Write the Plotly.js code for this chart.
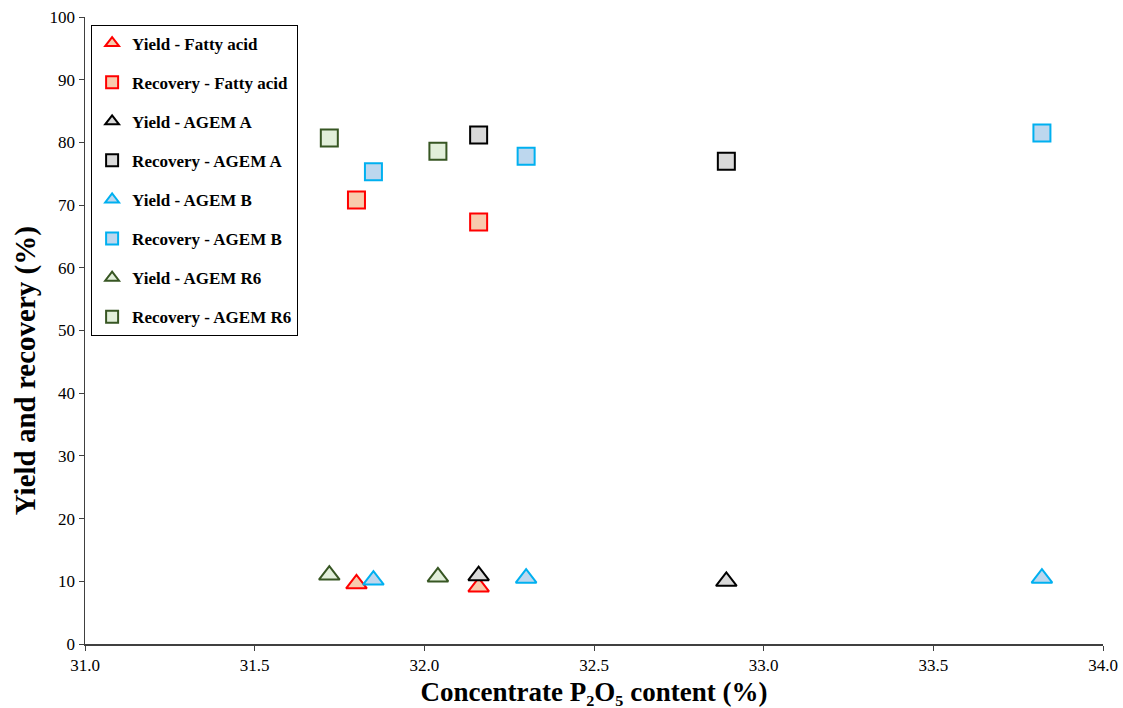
<!DOCTYPE html>
<html><head><meta charset="utf-8">
<script src="https://cdn.plot.ly/plotly-3.0.1.min.js"></script>
<style>body{margin:0;background:#fff}#chart{width:1123px;height:708px}</style>
</head><body><div id="chart"></div>
<script>
const faX = [31.80, 32.16];
const faYield = [9.6, 9.1];
const faRecovery = [70.8, 67.3];
const aX = [32.16, 32.89];
const aYield = [10.9, 10.0];
const aRecovery = [81.2, 77.0];
const bX = [31.85, 32.30, 33.82];
const bYield = [10.2, 10.5, 10.5];
const bRecovery = [75.3, 77.8, 81.5];
const r6X = [31.72, 32.04];
const r6Yield = [11.0, 10.7];
const r6Recovery = [80.7, 78.6];
const xTicks = [31.0, 31.5, 32.0, 32.5, 33.0, 33.5, 34.0];
const yTicks = [0, 10, 20, 30, 40, 50, 60, 70, 80, 90, 100];

const series = [
  {name: 'Yield - Fatty acid', x: faX, y: faYield, sym: 'triangle-up', line: '#FF0000', fill: '#F8CBAD'},
  {name: 'Recovery - Fatty acid', x: faX, y: faRecovery, sym: 'square', line: '#FF0000', fill: '#F8CBAD'},
  {name: 'Yield - AGEM A', x: aX, y: aYield, sym: 'triangle-up', line: '#000000', fill: '#D9D9D9'},
  {name: 'Recovery - AGEM A', x: aX, y: aRecovery, sym: 'square', line: '#000000', fill: '#D9D9D9'},
  {name: 'Yield - AGEM B', x: bX, y: bYield, sym: 'triangle-up', line: '#00B0F0', fill: '#BDD7EE'},
  {name: 'Recovery - AGEM B', x: bX, y: bRecovery, sym: 'square', line: '#00B0F0', fill: '#BDD7EE'},
  {name: 'Yield - AGEM R6', x: r6X, y: r6Yield, sym: 'triangle-up', line: '#375623', fill: '#E2EFDA'},
  {name: 'Recovery - AGEM R6', x: r6X, y: r6Recovery, sym: 'square', line: '#375623', fill: '#E2EFDA'}
];

const traces = series.map((s, i) => ({
  type: 'scatter', mode: 'markers', name: s.name, x: s.x, y: s.y,
  legendgroup: 'g' + i,
  marker: {symbol: s.sym, size: s.sym === 'square' ? 17 : 18, color: s.fill, line: {color: s.line, width: 2}}
}));

const font = 'Liberation Serif';
const layout = {
  width: 1123, height: 708,
  margin: {l: 85, r: 20, t: 17, b: 64},
  paper_bgcolor: '#fff', plot_bgcolor: '#fff',
  font: {family: font, color: '#000', size: 17},
  showlegend: true,
  legend: {
    x: 0.006, y: 0.988, xanchor: 'left', yanchor: 'top',
    bordercolor: '#000', borderwidth: 1, bgcolor: '#fff',
    font: {family: font, size: 17, color: '#000', weight: 'bold'},
    tracegroupgap: 14, itemsizing: 'constant', itemwidth: 30
  },
  xaxis: {
    range: [31.0, 34.0], tickvals: xTicks, ticktext: xTicks.map(v => v.toFixed(1)),
    showgrid: false, zeroline: false, showline: true, linecolor: '#404040', linewidth: 1.5,
    ticks: 'outside', ticklen: 5, tickcolor: '#404040',
    tickfont: {family: font, size: 17, color: '#000', weight: 'normal'},
    title: {text: 'Concentrate P₂O₅ content (%)', font: {family: font, size: 27, weight: 'bold'}, standoff: 8}
  },
  yaxis: {
    range: [0, 100], tickvals: yTicks, ticktext: yTicks.map(String),
    showgrid: false, zeroline: false, showline: true, linecolor: '#404040', linewidth: 1.5,
    ticks: 'outside', ticklen: 5, tickcolor: '#404040',
    tickfont: {family: font, size: 17, color: '#000', weight: 'normal'}
  },
  annotations: [{
    text: 'Yield and recovery (%)', textangle: -90, showarrow: false,
    xref: 'paper', yref: 'paper', x: 0, y: 0.435, xanchor: 'center', yanchor: 'middle', xshift: -60,
    font: {family: font, size: 29, weight: 'bold', color: '#000'}
  }]
};
Plotly.newPlot('chart', traces, layout, {displayModeBar: false, staticPlot: true});
</script></body></html>
